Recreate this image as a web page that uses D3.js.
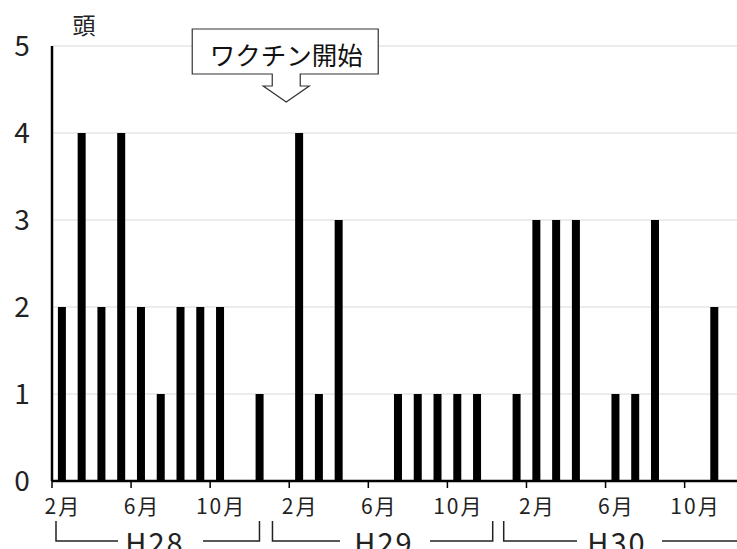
<!DOCTYPE html>
<html>
<head>
<meta charset="utf-8">
<script src="https://cdn.jsdelivr.net/npm/d3@7"></script>
<style>
  html, body { margin: 0; padding: 0; background: #fff; }
  svg { display: block; font-family: "Noto Sans CJK JP", "Noto Sans", sans-serif; }
</style>
</head>
<body>
<svg id="chart" width="737" height="549"></svg>
<script>
// Monthly counts (頭), Feb H28 through Dec H30
const months = [
  "2月","3月","4月","5月","6月","7月","8月","9月","10月","11月","12月",
  "1月","2月","3月","4月","5月","6月","7月","8月","9月","10月","11月","12月",
  "1月","2月","3月","4月","5月","6月","7月","8月","9月","10月","11月","12月"
];
const counts = [
  2,4,2,4,2,1,2,2,2,0,1,
  0,4,1,3,0,0,1,1,1,1,1,0,
  1,3,3,3,0,1,1,3,0,0,2,0
];
const tickMonths = ["2月","6月","10月"];
const yTicks = [0,1,2,3,4,5];
// year groups: first and last month index of each bracket
const years = [
  { label: "H28", first: 0,  last: 10 },
  { label: "H29", first: 11, last: 22 },
  { label: "H30", first: 23, last: 34 }
];
const calloutText = "ワクチン開始";
const calloutMonth = 12; // Feb H29

const svg = d3.select("#chart");
const W = 737;
const left = 52, step = 19.77;
const idx = d3.range(months.length);

const x = d3.scaleBand().domain(idx).range([left, left + step * months.length]).padding(0);
const y = d3.scaleLinear().domain([0, 5]).range([481, 46]);
const barW = 8;

// gridlines
svg.append("g").selectAll("line").data(yTicks.filter(d => d > 0)).join("line")
  .attr("x1", left).attr("x2", W)
  .attr("y1", d => y(d)).attr("y2", d => y(d))
  .attr("stroke", "#d9d9d9").attr("stroke-width", 1);

// bars
svg.append("g").selectAll("rect").data(idx.filter(i => counts[i] > 0)).join("rect")
  .attr("x", i => x(i) + x.bandwidth() / 2 - barW / 2)
  .attr("width", barW)
  .attr("y", i => y(counts[i]))
  .attr("height", i => y(0) - y(counts[i]))
  .attr("fill", "#000");

// y axis line and labels
svg.append("line").attr("x1", left).attr("x2", left).attr("y1", y(5)).attr("y2", y(0))
  .attr("stroke", "#000").attr("stroke-width", 2.5);
svg.append("g").selectAll("text").data(yTicks).join("text")
  .attr("x", 22).attr("y", d => y(d) + 10)
  .attr("text-anchor", "middle")
  .attr("font-size", 28).attr("fill", "#222")
  .text(d => d);
svg.append("text").attr("x", 84).attr("y", 34).attr("text-anchor", "middle")
  .attr("font-size", 23).attr("fill", "#222").text("頭");

// x axis baseline, ticks, month labels
svg.append("line").attr("x1", left).attr("x2", W).attr("y1", y(0)).attr("y2", y(0))
  .attr("stroke", "#000").attr("stroke-width", 2.5);
const tickIdx = idx.filter(i => tickMonths.includes(months[i]));
svg.append("g").selectAll("line").data(tickIdx).join("line")
  .attr("x1", i => x(i)).attr("x2", i => x(i))
  .attr("y1", y(0)).attr("y2", y(0) + 7)
  .attr("stroke", "#000").attr("stroke-width", 1.5);
svg.append("g").selectAll("text").data(tickIdx).join("text")
  .attr("x", i => x(i) + x.bandwidth() / 2 + 1)
  .attr("y", 514)
  .attr("text-anchor", "middle")
  .attr("font-size", 21).attr("letter-spacing", 2).attr("fill", "#222")
  .text(i => months[i]);

// year brackets
const bracket = svg.append("g").attr("stroke", "#222").attr("stroke-width", 1.5).attr("fill", "none");
const yl = svg.append("g");
const by = 541, bt = 521;
const bracketPos = [
  { l: x(0) + 4,  r: x(10) + x.bandwidth() - 10, t: 154, gl: 118, gr: 203, closeR: true },
  { l: x(11) + 3, r: x(22) + x.bandwidth() - 14, t: 383, gl: 340, gr: 430, closeR: true },
  { l: x(23) - 3, r: W, t: 616, gl: 577, gr: 662, closeR: false }
];
years.forEach((yr, k) => {
  const p = bracketPos[k];
  bracket.append("path").attr("d", `M${p.l},${bt}V${by}H${p.gl}`);
  bracket.append("path").attr("d", p.closeR ? `M${p.gr},${by}H${p.r}V${bt}` : `M${p.gr},${by}H${p.r}`);
  yl.append("text").attr("x", p.t + 1).attr("y", 554).attr("text-anchor", "middle")
    .attr("font-size", 29).attr("letter-spacing", 2).attr("fill", "#222").text(yr.label);
});

// callout arrow
const tipX = x(calloutMonth) - 3;
const bx0 = tipX - 94, bx1 = tipX + 92, boxTop = 29, boxBot = 74;
const callout = svg.append("g");
callout.append("path")
  .attr("d", `M${bx0},${boxTop}H${bx1}V${boxBot}H${tipX + 14}V86H${tipX + 23}L${tipX},102L${tipX - 23},86H${tipX - 14}V${boxBot}H${bx0}Z`)
  .attr("fill", "#fff").attr("stroke", "#333").attr("stroke-width", 1.2);
callout.append("text").attr("x", tipX).attr("y", 65).attr("text-anchor", "middle")
  .attr("font-size", 25.5).attr("fill", "#111").text(calloutText);
</script>
</body>
</html>
